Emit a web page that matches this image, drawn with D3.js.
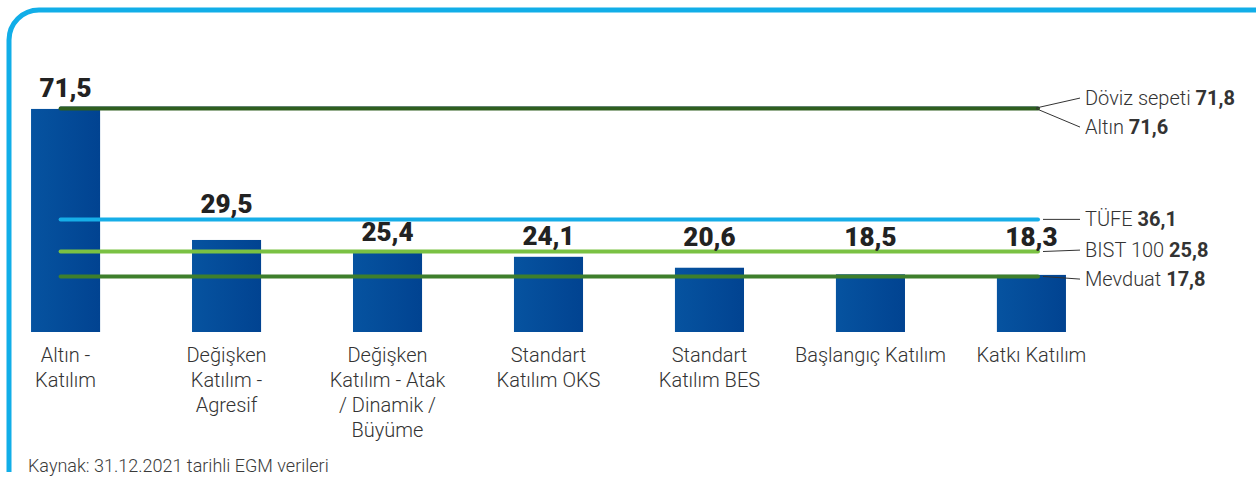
<html>
<head>
  <script src="https://d3js.org/d3.v7.min.js"></script>
  <style>
    body { margin: 0; background: white; }
    text { font-family: Roboto, "DejaVu Sans", sans-serif; }
    .cat { font-size: 20px; font-weight: 300; fill: #333; }
    .val { font-size: 26px; font-weight: 900; fill: #222; }
    .leg { font-size: 20px; font-weight: 300; fill: #333; }
    .src { font-size: 18px; font-weight: 300; fill: #3a3a3a; }
  </style>
</head>
<body>
  <svg id="chart" width="1256" height="477"></svg>
  <script>
    // bars: fund groups
    const categories = [
      ["Altın -", "Katılım"],
      ["Değişken", "Katılım -", "Agresif"],
      ["Değişken", "Katılım - Atak", "/ Dinamik /", "Büyüme"],
      ["Standart", "Katılım OKS"],
      ["Standart", "Katılım BES"],
      ["Başlangıç Katılım"],
      ["Katkı Katılım"]
    ];
    const returns = [71.5, 29.5, 25.4, 24.1, 20.6, 18.5, 18.3];

    // benchmark lines
    const benchNames = ["Döviz sepeti", "Altın", "TÜFE", "BIST 100", "Mevduat"];
    const benchValues = [71.8, 71.6, 36.1, 25.8, 17.8];
    const benchColors = ["#2f5a8c", "#2f5f1f", "#16aee8", "#7ac143", "#3e7f2c"];

    const fmt = v => String(v.toFixed(1)).replace(".", ",");

    const svg = d3.select("#chart");

    // rounded frame
    svg.append("path")
      .attr("d", "M9,472 V40 A30,30 0 0 1 39,10 H1260")
      .attr("fill", "none")
      .attr("stroke", "#11aee8")
      .attr("stroke-width", 5);

    const x = d3.scaleBand()
      .domain(d3.range(categories.length))
      .range([-15, 1112])
      .paddingInner(0.571)
      .paddingOuter(0.286);
    const y = d3.scaleLinear().domain([0, 71.8]).range([332, 108]);

    const grad = svg.append("defs").append("linearGradient")
      .attr("id", "barGrad").attr("x1", "0%").attr("x2", "100%");
    grad.append("stop").attr("offset", "0%").attr("stop-color", "#0653a0");
    grad.append("stop").attr("offset", "100%").attr("stop-color", "#014391");

    svg.append("g").selectAll("rect").data(returns).join("rect")
      .attr("x", (d, i) => x(i))
      .attr("y", d => y(d))
      .attr("width", x.bandwidth())
      .attr("height", d => y(0) - y(d))
      .attr("fill", "url(#barGrad)");

    // benchmark lines over bars
    const lineX0 = x(0) + x.bandwidth() / 2 - 5;
    const lineX1 = 1038;
    svg.append("g").selectAll("line").data(benchValues).join("line")
      .attr("x1", lineX0).attr("x2", lineX1)
      .attr("y1", d => y(d)).attr("y2", d => y(d))
      .attr("stroke", (d, i) => benchColors[i])
      .attr("stroke-width", (d, i) => i == 0 ? 3 : 4)
      .attr("stroke-linecap", "round");

    // value labels, pushed above any benchmark line they would cross
    svg.append("g").selectAll("text").data(returns).join("text")
      .attr("class", "val")
      .attr("text-anchor", "middle")
      .attr("x", (d, i) => x(i) + x.bandwidth() / 2)
      .attr("y", d => {
        let base = y(d) - 12;
        benchValues.forEach(b => {
          const ly = y(b);
          if (ly > base - 21 && ly < base + 3) base = ly - 6;
        });
        return base;
      })
      .text(d => fmt(d));

    // category labels
    const cat = svg.append("g").selectAll("text").data(categories).join("text")
      .attr("class", "cat")
      .attr("text-anchor", "middle")
      .attr("x", (d, i) => x(i) + x.bandwidth() / 2)
      .attr("y", 362);
    cat.selectAll("tspan").data((d, i) => d.map(s => [s, i])).join("tspan")
      .attr("x", d => x(d[1]) + x.bandwidth() / 2)
      .attr("dy", (d, j) => j == 0 ? 0 : 25)
      .text(d => d[0]);

    // legend labels on the right, spread apart where they overlap
    const legY = benchValues.map(v => y(v));
    const minGap = 29;
    for (let k = 0; k < 10; k++) {
      for (let i = 0; i < legY.length - 1; i++) {
        const gap = legY[i + 1] - legY[i];
        if (gap < minGap) {
          const push = minGap - gap;
          legY[i] -= push * 0.35;
          legY[i + 1] += push * 0.65;
        }
      }
    }
    const leg = svg.append("g");
    benchValues.forEach((v, i) => {
      const spread = Math.abs(legY[i] - y(v)) > 5;
      leg.append("line")
        .attr("x1", spread ? lineX1 - 2 : 1043).attr("y1", y(v))
        .attr("x2", 1080).attr("y2", legY[i])
        .attr("stroke", "#333").attr("stroke-width", 1);
      const t = leg.append("text").attr("class", "leg")
        .attr("x", 1085).attr("y", legY[i] + 7);
      t.append("tspan").text(benchNames[i] + " ");
      t.append("tspan").attr("font-weight", 700).text(fmt(v));
    });

    svg.append("text").attr("class", "src")
      .attr("x", 28).attr("y", 472)
      .text("Kaynak: 31.12.2021 tarihli EGM verileri");
  </script>
</body>
</html>
